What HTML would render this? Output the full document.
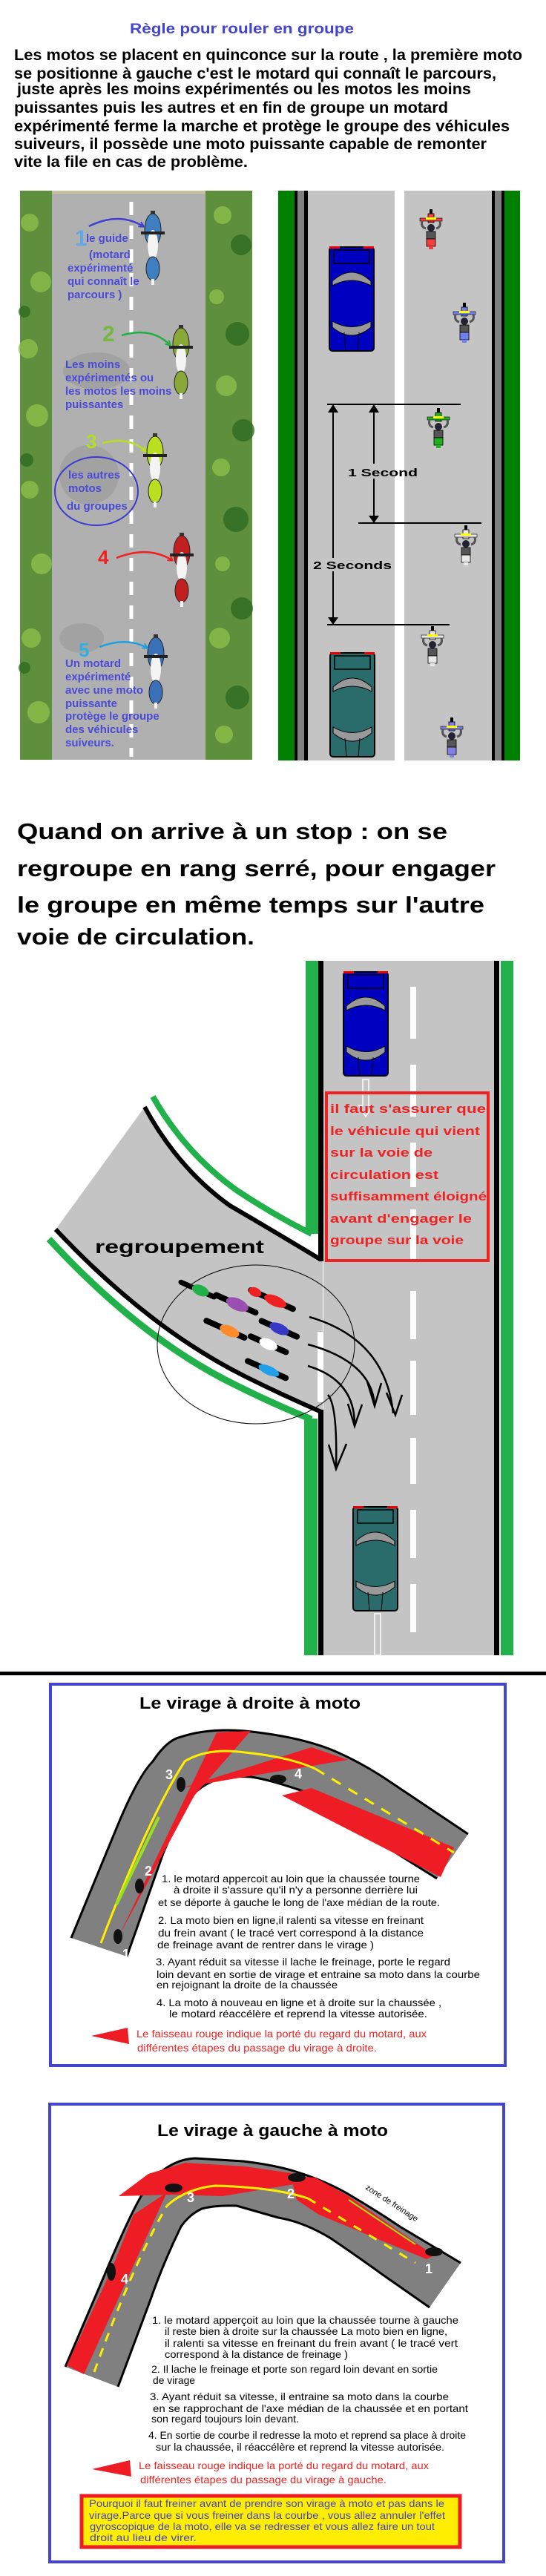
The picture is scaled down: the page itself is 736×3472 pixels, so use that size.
<!DOCTYPE html>
<html><head><meta charset="utf-8">
<style>
html,body{margin:0;padding:0;background:#fff;}
svg{display:block;}
text{font-family:"Liberation Sans",sans-serif;}
</style></head>
<body>
<svg width="736" height="3472" viewBox="0 0 736 3472" xmlns="http://www.w3.org/2000/svg">
<defs>
<marker id="ah" markerWidth="8" markerHeight="8" refX="6" refY="4" orient="auto" markerUnits="userSpaceOnUse"><path d="M0,0 L7,4 L0,8" fill="none" stroke="context-stroke" stroke-width="2"/></marker>
<g id="moto">
 <rect x="-2" y="-28" width="4" height="8" fill="#000"/>
 <rect x="-4" y="-22" width="8" height="12" fill="currentColor" stroke="#000" stroke-width="0.8"/>
 <rect x="-15" y="-16" width="30" height="4" fill="currentColor" stroke="#000" stroke-width="0.6"/>
 <rect x="-7" y="-17" width="14" height="3" fill="#ff0"/>
 <path d="M-12,-12 Q-14,-4 -7,-2 M12,-12 Q14,-4 7,-2" stroke="#555" stroke-width="3" fill="none"/>
 <circle cx="0" cy="-3" r="5" fill="#223"/>
 <rect x="-6" y="2" width="12" height="10" fill="#555" stroke="#000" stroke-width="0.8"/>
 <rect x="-6" y="12" width="12" height="10" fill="currentColor" stroke="#000" stroke-width="0.8"/>
 <rect x="-3" y="22" width="6" height="4" fill="currentColor"/>
</g>
<g id="car">
 <rect x="0" y="0" width="60" height="140" rx="4" fill="currentColor" stroke="#000" stroke-width="2"/>
 <rect x="0" y="-1" width="14" height="3" fill="#e00"/><rect x="46" y="-1" width="14" height="3" fill="#e00"/>
 <path d="M6,4 L54,4 L54,22 L6,22 Z" fill="none" stroke="#000" stroke-width="1.5"/>
 <path d="M4,46 Q30,22 56,46 L56,52 Q30,38 4,52 Z" fill="#999" stroke="#000" stroke-width="1"/>
 <path d="M4,100 Q30,115 56,100 L56,108 Q30,130 4,108 Z" fill="#999" stroke="#000" stroke-width="1"/>
 <path d="M20,115 L22,140 M40,115 L38,140" stroke="#000" stroke-width="1"/>
</g>
<g id="pmoto">
 <rect x="-3" y="-56" width="6" height="10" fill="#333"/>
 <ellipse cx="0" cy="-30" rx="11" ry="22" fill="currentColor" stroke="#222" stroke-width="1"/>
 <ellipse cx="0" cy="-10" rx="7" ry="20" fill="#f4f4f4"/>
 <rect x="-16" y="-28" width="32" height="4" fill="#222"/>
 <ellipse cx="0" cy="22" rx="9" ry="16" fill="currentColor" stroke="#222" stroke-width="1"/>
 <rect x="-2" y="36" width="4" height="8" fill="#f4f4f4"/>
</g>
</defs>

<!-- ===== Header ===== -->
<text x="175" y="45" font-size="19" font-weight="bold" fill="#4444cc" textLength="302" lengthAdjust="spacingAndGlyphs">Règle pour rouler en groupe</text>
<g font-size="21" font-weight="bold" fill="#000">
<text x="19" y="81" textLength="685" lengthAdjust="spacingAndGlyphs">Les motos se placent en quinconce sur la route , la première moto</text>
<text x="19" y="106" textLength="650" lengthAdjust="spacingAndGlyphs">se positionne à gauche c'est le motard qui connaît le parcours,</text>
<text x="23" y="127" textLength="612" lengthAdjust="spacingAndGlyphs">juste après les moins expérimentés ou les motos les moins</text>
<text x="19" y="152" textLength="585" lengthAdjust="spacingAndGlyphs">puissantes puis les autres et en fin de groupe un motard</text>
<text x="19" y="177" textLength="668" lengthAdjust="spacingAndGlyphs">expérimenté ferme la marche et protège le groupe des véhicules</text>
<text x="19" y="201" textLength="637" lengthAdjust="spacingAndGlyphs">suiveurs, il possède une moto puissante capable de remonter</text>
<text x="19" y="225" textLength="315" lengthAdjust="spacingAndGlyphs">vite la file en cas de problème.</text>
</g>

<!-- ===== Left photo ===== -->
<rect x="27" y="257" width="313" height="767" fill="#5d8f3c"/>
<g fill="#8cbf4a" opacity="0.8">
<circle cx="40" cy="300" r="12"/><circle cx="55" cy="380" r="14"/><circle cx="38" cy="470" r="13"/><circle cx="50" cy="560" r="15"/><circle cx="40" cy="660" r="12"/><circle cx="56" cy="760" r="14"/><circle cx="42" cy="860" r="13"/><circle cx="52" cy="960" r="15"/>
<circle cx="300" cy="290" r="12"/><circle cx="292" cy="400" r="10"/><circle cx="305" cy="520" r="14"/><circle cx="298" cy="630" r="12"/><circle cx="300" cy="760" r="10"/><circle cx="296" cy="860" r="14"/><circle cx="302" cy="990" r="12"/>
</g>
<g fill="#2f6a22" opacity="0.8">
<circle cx="325" cy="330" r="14"/><circle cx="320" cy="450" r="16"/><circle cx="328" cy="580" r="15"/><circle cx="318" cy="700" r="17"/><circle cx="326" cy="820" r="15"/><circle cx="320" cy="940" r="16"/>
<circle cx="33" cy="420" r="8"/><circle cx="36" cy="620" r="9"/><circle cx="33" cy="900" r="8"/>
</g>
<rect x="70" y="257" width="207" height="767" fill="#b0b0b0"/>
<rect x="70" y="257" width="207" height="4" fill="#c8c09a"/>
<g fill="#999" opacity="0.6">
<ellipse cx="130" cy="500" rx="45" ry="25"/><ellipse cx="120" cy="640" rx="40" ry="40"/><ellipse cx="110" cy="860" rx="30" ry="20"/>
</g>
<g stroke="#fff" stroke-width="5" stroke-dasharray="18 14">
<line x1="177" y1="272" x2="177" y2="1020"/>
</g>
<use href="#pmoto" x="206" y="340" color="#3f7fc0"/>
<use href="#pmoto" x="244" y="494" color="#8aa838"/>
<use href="#pmoto" x="209" y="640" color="#b8e020"/>
<use href="#pmoto" x="245" y="774" color="#c02020"/>
<use href="#pmoto" x="210" y="911" color="#3a70b8"/>
<path d="M120,305 Q160,285 193,305" fill="none" stroke="#4040d0" stroke-width="2.5" marker-end="url(#ah)"/>
<path d="M164,452 Q205,440 229,465" fill="none" stroke="#20b040" stroke-width="2.5" marker-end="url(#ah)"/>
<path d="M138,597 Q175,588 196,608" fill="none" stroke="#b8e020" stroke-width="2.5" marker-end="url(#ah)"/>
<path d="M157,752 Q200,735 232,755" fill="none" stroke="#ee2222" stroke-width="2.5" marker-end="url(#ah)"/>
<path d="M134,872 Q170,858 198,873" fill="none" stroke="#20a0e0" stroke-width="2.5" marker-end="url(#ah)"/>
<g font-family="Liberation Serif" font-weight="bold">
<text x="101" y="331" font-size="30" fill="#60a8e8">1</text>
<text x="138" y="460" font-size="30" fill="#74b83c">2</text>
<text x="116" y="604" font-size="26" fill="#b0e020">3</text>
<text x="132" y="760" font-size="26" fill="#ee2020">4</text>
<text x="106" y="885" font-size="26" fill="#30b0e0">5</text>
</g>
<ellipse cx="130" cy="662" rx="56" ry="46" fill="none" stroke="#3a3ad0" stroke-width="2"/>
<g font-family="Liberation Serif" font-size="15" font-weight="bold" fill="#4a4ad8">
<text x="116" y="326">le guide</text>
<text x="120" y="348">(motard</text>
<text x="91" y="366">expérimenté</text>
<text x="91" y="384">qui connaît le</text>
<text x="91" y="402">parcours )</text>
<text x="88" y="496">Les moins</text>
<text x="88" y="514">expérimentés ou</text>
<text x="88" y="532">les motos les moins</text>
<text x="88" y="550">puissantes</text>
<text x="92" y="645">les autres</text>
<text x="92" y="663">motos</text>
<text x="90" y="687">du groupes</text>
<text x="88" y="899">Un motard</text>
<text x="88" y="917">expérimenté</text>
<text x="88" y="935">avec une moto</text>
<text x="88" y="953">puissante</text>
<text x="88" y="970">protège le groupe</text>
<text x="88" y="988">des véhicules</text>
<text x="88" y="1006">suiveurs.</text>
</g>

<!-- ===== Right diagram ===== -->
<rect x="375" y="257" width="326" height="768" fill="#c4c4c4"/>
<rect x="375" y="257" width="22" height="768" fill="#008000"/>
<rect x="397" y="257" width="18" height="768" fill="#000"/>
<rect x="401" y="257" width="9" height="768" fill="#808080"/>
<rect x="532" y="257" width="13" height="768" fill="#fff"/>
<rect x="663" y="257" width="17" height="768" fill="#000"/>
<rect x="667" y="257" width="9" height="768" fill="#808080"/>
<rect x="680" y="257" width="21" height="768" fill="#008000"/>
<use href="#car" x="444" y="333" color="#0000c0"/>
<use href="#car" x="445" y="880" color="#2a6b6b"/>
<use href="#moto" x="581" y="310" color="#f04040"/>
<use href="#moto" x="626" y="436" color="#7080f0"/>
<use href="#moto" x="591" y="578" color="#20b020"/>
<use href="#moto" x="628" y="736" color="#e8e8e8"/>
<use href="#moto" x="583" y="872" color="#e8e8e8"/>
<use href="#moto" x="609" y="995" color="#8080e0"/>
<g stroke="#000" stroke-width="2" fill="none">
<line x1="441" y1="545" x2="621" y2="545"/>
<line x1="449" y1="548" x2="449" y2="842"/>
<line x1="504" y1="548" x2="504" y2="625"/><line x1="504" y1="645" x2="504" y2="705"/>
<line x1="483" y1="705" x2="649" y2="705"/>
<line x1="441" y1="842" x2="606" y2="842"/>
</g>
<rect x="445" y="752" width="82" height="18" fill="#c4c4c4"/>
<g fill="#000">
<path d="M442,556 L449,545 L456,556 Z"/><path d="M497,556 L504,545 L511,556 Z"/>
<path d="M497,695 L504,705 L511,695 Z"/><path d="M442,832 L449,842 L456,832 Z"/>
</g>
<text x="469" y="642" font-family="DejaVu Sans" font-weight="bold" font-size="15" fill="#000" textLength="94" lengthAdjust="spacingAndGlyphs">1 Second</text>
<text x="422" y="767" font-family="DejaVu Sans" font-weight="bold" font-size="15" fill="#000" textLength="106" lengthAdjust="spacingAndGlyphs">2 Seconds</text>

<!-- ===== Stop text ===== -->
<g font-size="31" fill="#000" font-family="DejaVu Sans" font-weight="bold">
<text x="23" y="1131" textLength="580" lengthAdjust="spacingAndGlyphs">Quand on arrive à un stop : on se</text>
<text x="23" y="1181" textLength="645" lengthAdjust="spacingAndGlyphs">regroupe en rang serré, pour engager</text>
<text x="23" y="1230" textLength="630" lengthAdjust="spacingAndGlyphs">le groupe en même temps sur l'autre</text>
<text x="23" y="1273" textLength="320" lengthAdjust="spacingAndGlyphs">voie de circulation.</text>
</g>

<!-- ===== Intersection ===== -->
<rect x="436" y="1295" width="230" height="936" fill="#c4c4c4"/>
<path d="M195,1492 Q240,1575 310,1625 Q370,1660 435,1698 L435,1903 Q380,1880 330,1855 Q200,1790 75,1657 Z" fill="#c4c4c4"/>
<rect x="412" y="1295" width="17" height="368" fill="#22b04a"/>
<rect x="429" y="1295" width="7" height="405" fill="#000"/>
<rect x="410" y="1912" width="18" height="319" fill="#22b04a"/>
<rect x="429" y="1900" width="7" height="331" fill="#000"/>
<rect x="666" y="1295" width="7" height="936" fill="#000"/>
<rect x="675" y="1295" width="17" height="936" fill="#22b04a"/>
<path d="M195,1492 Q240,1575 310,1625 Q370,1660 433,1698" fill="none" stroke="#000" stroke-width="6"/>
<path d="M206,1478 Q250,1555 320,1605 Q370,1638 420,1663" fill="none" stroke="#22b04a" stroke-width="8"/>
<path d="M75,1657 Q200,1790 330,1855 Q380,1880 433,1903" fill="none" stroke="#000" stroke-width="6"/>
<path d="M66,1670 Q190,1805 320,1868 Q370,1893 420,1913" fill="none" stroke="#22b04a" stroke-width="9"/>
<g stroke="#fff" stroke-width="8">
<line x1="557" y1="1330" x2="557" y2="1400"/><line x1="557" y1="1435" x2="557" y2="1505"/>
<line x1="557" y1="1540" x2="557" y2="1600"/><line x1="557" y1="1630" x2="557" y2="1700"/>
<line x1="557" y1="1740" x2="557" y2="1805"/><line x1="557" y1="1834" x2="557" y2="1907"/>
<line x1="557" y1="1938" x2="557" y2="2000"/><line x1="557" y1="2035" x2="557" y2="2100"/>
<line x1="557" y1="2135" x2="557" y2="2200"/>
<line x1="432" y1="1795" x2="432" y2="1890"/>
</g>
<path d="M489,1455 L497,1455 L497,1490 L502,1490 L493,1505 L484,1490 L489,1490 Z" fill="#c4c4c4" stroke="#fff" stroke-width="1.5"/>
<path d="M505,2175 L513,2175 L513,2231 L505,2231 Z" fill="#c4c4c4" stroke="#fff" stroke-width="1.5"/>
<use href="#car" x="463" y="1310" color="#0000c0"/>
<use href="#car" x="476" y="2031" color="#2a6b6b"/>
<rect x="440" y="1473" width="218" height="226" fill="none" stroke="#ee2222" stroke-width="4"/>
<g font-family="DejaVu Sans" font-size="17" font-weight="bold" fill="#ee2222">
<text x="445" y="1500" textLength="210" lengthAdjust="spacingAndGlyphs">il faut s'assurer que</text>
<text x="445" y="1530" textLength="202" lengthAdjust="spacingAndGlyphs">le véhicule qui vient</text>
<text x="445" y="1559" textLength="138" lengthAdjust="spacingAndGlyphs">sur la voie de</text>
<text x="445" y="1589" textLength="146" lengthAdjust="spacingAndGlyphs">circulation est</text>
<text x="445" y="1618" textLength="211" lengthAdjust="spacingAndGlyphs">suffisamment éloigné</text>
<text x="445" y="1648" textLength="191" lengthAdjust="spacingAndGlyphs">avant d'engager le</text>
<text x="445" y="1677" textLength="180" lengthAdjust="spacingAndGlyphs">groupe sur la voie</text>
</g>
<text x="128" y="1689" font-family="DejaVu Sans" font-weight="bold" font-size="25" fill="#000" textLength="228" lengthAdjust="spacingAndGlyphs">regroupement</text>
<ellipse cx="345" cy="1812" rx="133" ry="107" fill="none" stroke="#000" stroke-width="1"/>
<g stroke-linecap="round">
<g transform="rotate(24 345 1800)">
<rect x="310" y="1743" width="70" height="8" rx="4" fill="#000"/><ellipse cx="350" cy="1747" rx="16" ry="7" fill="#ee2222"/><ellipse cx="320" cy="1747" rx="9" ry="6" fill="#ee2222"/>
<rect x="270" y="1768" width="66" height="8" rx="4" fill="#000"/><ellipse cx="305" cy="1772" rx="16" ry="8" fill="#9b4fb0"/>
<rect x="340" y="1775" width="60" height="8" rx="4" fill="#000"/><ellipse cx="370" cy="1779" rx="14" ry="7" fill="#3838c8"/>
<rect x="220" y="1772" width="56" height="7" rx="4" fill="#000"/><ellipse cx="252" cy="1775" rx="12" ry="7" fill="#22b04a"/>
<rect x="335" y="1800" width="60" height="8" rx="4" fill="#000"/><ellipse cx="365" cy="1804" rx="13" ry="7" fill="#fff"/>
<rect x="272" y="1805" width="64" height="8" rx="4" fill="#000"/><ellipse cx="310" cy="1809" rx="14" ry="7" fill="#ff8a2a"/>
<rect x="345" y="1832" width="64" height="8" rx="4" fill="#000"/><ellipse cx="380" cy="1836" rx="15" ry="6" fill="#20a0e8"/>
</g>
</g>
<g fill="none" stroke="#000" stroke-width="2.5">
<path d="M417,1775 Q520,1805 530,1905"/><path d="M521,1877 L533,1907 L542,1880"/>
<path d="M415,1812 Q500,1835 505,1893"/><path d="M495,1862 L505,1895 L514,1864"/>
<path d="M415,1841 Q478,1860 478,1920"/><path d="M469,1892 L478,1922 L488,1893"/>
<path d="M442,1880 Q455,1895 453,1978"/><path d="M443,1947 L453,1980 L467,1946"/>
</g>

<rect x="0" y="2253" width="736" height="5" fill="#000"/>

<!-- ===== Box 1 ===== -->
<rect x="68" y="2270" width="613" height="514" fill="#fff" stroke="#4444cc" stroke-width="4"/>
<text x="188" y="2303" font-size="22" font-weight="bold" fill="#000" textLength="298" lengthAdjust="spacingAndGlyphs">Le virage à droite à moto</text>
<path d="M96,2612 L155,2469 Q185,2395 206,2374 Q225,2345 244,2341 Q280,2329 330,2333 Q400,2340 446,2358 Q480,2372 516,2395 L631,2472 L589,2532 L469,2457 Q430,2420 399,2411 Q360,2398 338,2395 Q300,2393 291,2399 Q275,2405 263,2416 Q240,2450 220,2498 L171,2637 Z" fill="#808080"/>
<path d="M96,2612 L155,2469 Q185,2395 206,2374 Q225,2345 244,2341 Q280,2329 330,2333 Q400,2340 446,2358 Q480,2372 516,2395 L631,2472" fill="none" stroke="#000" stroke-width="3"/>
<path d="M589,2532 L469,2457 Q430,2420 399,2411 Q360,2398 338,2395 Q300,2393 291,2399 Q275,2405 263,2416 Q240,2450 220,2498 L171,2637" fill="none" stroke="#000" stroke-width="3"/>
<g fill="#ee1c24">
<path d="M160,2610 L292,2335 L338,2333 L262,2420 Z"/>
<path d="M245,2410 L420,2355 L469,2372 L300,2400 Z"/>
<path d="M380,2420 L420,2410 L612,2490 L594,2530 Z"/>
</g>
<path d="M136,2619 Q200,2450 249,2374 Q280,2355 330,2362 Q390,2368 425,2384" fill="none" stroke="#ffee00" stroke-width="3"/>
<path d="M425,2384 L612,2497" fill="none" stroke="#ffee00" stroke-width="3" stroke-dasharray="14 12"/>
<path d="M157,2567 L214,2449" stroke="#9be020" stroke-width="4"/>
<g fill="#fff" font-size="18" font-weight="bold"><text x="223" y="2398">3</text><text x="195" y="2528">2</text><text x="165" y="2640">1</text><text x="397" y="2397">4</text></g>
<g fill="#111"><ellipse cx="159" cy="2610" rx="6" ry="10"/><ellipse cx="188" cy="2542" rx="6" ry="10"/><ellipse cx="244" cy="2405" rx="6" ry="10"/><ellipse cx="375" cy="2398" rx="11" ry="6"/></g>
<g font-size="14" fill="#000">
<text x="218" y="2537" textLength="348" lengthAdjust="spacingAndGlyphs">1. le motard appercoit au loin que la chaussée tourne</text>
<text x="234" y="2552" textLength="329" lengthAdjust="spacingAndGlyphs">à droite  il s'assure qu'il n'y a personne derrière lui</text>
<text x="213" y="2569" textLength="380" lengthAdjust="spacingAndGlyphs">et se déporte à gauche le long de l'axe médian de la route.</text>
<text x="213" y="2593" textLength="358" lengthAdjust="spacingAndGlyphs">2. La moto bien en ligne,il ralenti sa vitesse en freinant</text>
<text x="213" y="2610" textLength="358" lengthAdjust="spacingAndGlyphs">du frein avant  ( le tracé  vert  correspond à la distance</text>
<text x="212" y="2626" textLength="292" lengthAdjust="spacingAndGlyphs">de freinage avant de rentrer dans le virage )</text>
<text x="210" y="2649" textLength="397" lengthAdjust="spacingAndGlyphs">3. Ayant réduit sa vitesse il lache le freinage, porte le regard</text>
<text x="211" y="2666" textLength="436" lengthAdjust="spacingAndGlyphs">loin devant  en sortie de virage et  entraine sa moto  dans la courbe</text>
<text x="211" y="2680" textLength="244" lengthAdjust="spacingAndGlyphs">en rejoignant la droite de la chaussée</text>
<text x="211" y="2704" textLength="384" lengthAdjust="spacingAndGlyphs">4. La moto à nouveau en ligne et à droite sur la  chaussée ,</text>
<text x="228" y="2719" textLength="348" lengthAdjust="spacingAndGlyphs">le motard  réaccélère  et reprend la vitesse autorisée.</text>
</g>
<path d="M123,2744 L172,2733 L174,2755 Z" fill="#ee1c24"/>
<g font-size="14" fill="#ee2222">
<text x="184" y="2746" textLength="391" lengthAdjust="spacingAndGlyphs">Le faisseau rouge indique la porté du regard du motard, aux</text>
<text x="185" y="2765" textLength="323" lengthAdjust="spacingAndGlyphs">différentes étapes du passage du virage à droite.</text>
</g>

<!-- ===== Box 2 ===== -->
<rect x="67" y="2836" width="612" height="617" fill="#fff" stroke="#4444cc" stroke-width="4"/>
<text x="212" y="2879" font-size="22" font-weight="bold" fill="#000" textLength="311" lengthAdjust="spacingAndGlyphs">Le virage à  gauche  à moto</text>
<path d="M88,3190 L141,3066 Q175,2985 192,2957 Q205,2935 220,2925 Q240,2910 263,2909 L328,2913 Q370,2918 399,2927 Q440,2940 469,2957 Q505,2978 539,3001 L621,3050 L579,3110 L516,3066 Q480,3040 446,3017 Q410,2995 375,2989 L319,2973 Q290,2972 272,2977 Q255,2985 244,3001 Q220,3050 202,3102 L159,3217 Z" fill="#808080"/>
<path d="M88,3190 L141,3066 Q175,2985 192,2957 Q205,2935 220,2925 Q240,2910 263,2909 L328,2913 Q370,2918 399,2927 Q440,2940 469,2957 Q505,2978 539,3001 L621,3050" fill="none" stroke="#000" stroke-width="3"/>
<path d="M579,3110 L516,3066 Q480,3040 446,3017 Q410,2995 375,2989 L319,2973 Q290,2972 272,2977 Q255,2985 244,3001 Q220,3050 202,3102 L159,3217" fill="none" stroke="#000" stroke-width="3"/>
<g fill="#ee1c24">
<path d="M90,3188 L150,3060 L180,2985 L225,2955 L113,3200 Z"/>
<path d="M160,2960 L200,2930 L250,2915 L330,2920 L400,2930 L420,2940 L300,2960 L234,2958 Z"/>
<path d="M392,2933 L425,2935 L470,2960 L585,3040 L575,3045 L430,2985 L400,2965 Z"/>
</g>
<path d="M127,3197 Q180,3050 225,2973" fill="none" stroke="#ffee00" stroke-width="3" stroke-dasharray="12 10"/>
<path d="M225,2973 Q250,2950 290,2946 Q370,2948 415,2963" fill="none" stroke="#ffee00" stroke-width="3"/>
<path d="M415,2963 L560,3050" fill="none" stroke="#ffee00" stroke-width="3" stroke-dasharray="12 12"/>
<path d="M470,2965 L560,3025" stroke="#9be020" stroke-width="2"/>
<g fill="#111"><ellipse cx="150" cy="3062" rx="6" ry="12"/><ellipse cx="234" cy="2949" rx="12" ry="6"/><ellipse cx="400" cy="2935" rx="12" ry="6"/><ellipse cx="585" cy="3035" rx="12" ry="6"/></g>
<g fill="#fff" font-size="18" font-weight="bold"><text x="573" y="3064">1</text><text x="387" y="2963">2</text><text x="252" y="2968">3</text><text x="163" y="3078">4</text></g>
<text x="492" y="2950" font-size="11" fill="#000" transform="rotate(33 492 2950)">zone de freinage</text>
<g font-size="14" fill="#000">
<text x="205" y="3132" textLength="413" lengthAdjust="spacingAndGlyphs">1. le motard apperçoit au loin que la chaussée tourne à gauche</text>
<text x="222" y="3147" textLength="381" lengthAdjust="spacingAndGlyphs">il reste bien à droite sur la chaussée La moto bien en ligne,</text>
<text x="222" y="3163" textLength="395" lengthAdjust="spacingAndGlyphs">il ralenti sa vitesse en freinant  du frein avant ( le tracé  vert</text>
<text x="222" y="3178" textLength="247" lengthAdjust="spacingAndGlyphs">correspond à la distance de freinage )</text>
<text x="204" y="3198" textLength="386" lengthAdjust="spacingAndGlyphs">2. Il lache le freinage et porte son regard loin devant en sortie</text>
<text x="206" y="3213" textLength="57" lengthAdjust="spacingAndGlyphs">de virage</text>
<text x="202" y="3235" textLength="403" lengthAdjust="spacingAndGlyphs">3. Ayant réduit sa vitesse, il  entraine sa moto dans la courbe</text>
<text x="206" y="3251" textLength="425" lengthAdjust="spacingAndGlyphs">en se rapprochant  de  l'axe médian de la chaussée  et en portant</text>
<text x="204" y="3265" textLength="199" lengthAdjust="spacingAndGlyphs">son regard toujours loin devant.</text>
<text x="200" y="3287" textLength="428" lengthAdjust="spacingAndGlyphs">4. En sortie de courbe il redresse la moto et reprend sa place à droite</text>
<text x="210" y="3303" textLength="389" lengthAdjust="spacingAndGlyphs">sur la chaussée, il  réaccélère et reprend la vitesse autorisée.</text>
</g>
<path d="M124,3328 L175,3316 L177,3338 Z" fill="#ee1c24"/>
<g font-size="14" fill="#ee2222">
<text x="187" y="3328" textLength="391" lengthAdjust="spacingAndGlyphs">Le faisseau rouge indique la porté du regard du motard, aux</text>
<text x="189" y="3347" textLength="332" lengthAdjust="spacingAndGlyphs">différentes étapes du passage du virage à gauche.</text>
</g>
<rect x="110" y="3364" width="510" height="69" fill="#ffee00" stroke="#ee1c24" stroke-width="5"/>
<g font-size="14" fill="#4444cc">
<text x="120" y="3379" textLength="479" lengthAdjust="spacingAndGlyphs">Pourquoi il faut freiner avant de prendre son virage à moto et pas dans le</text>
<text x="120" y="3395" textLength="480" lengthAdjust="spacingAndGlyphs">virage.Parce  que si vous freiner dans la courbe , vous allez annuler l'effet</text>
<text x="121" y="3410" textLength="465" lengthAdjust="spacingAndGlyphs">gyroscopique de la moto, elle va se redresser et vous allez faire un tout</text>
<text x="121" y="3425" textLength="144" lengthAdjust="spacingAndGlyphs">droit  au lieu de  virer.</text>
</g>
</svg>
</body></html>
